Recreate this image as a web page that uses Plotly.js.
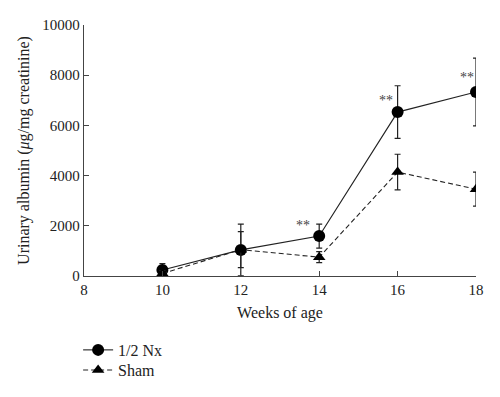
<!DOCTYPE html>
<html>
<head>
<meta charset="utf-8">
<script src="https://cdn.plot.ly/plotly-3.0.1.min.js"></script>
<style>html,body{margin:0;padding:0;background:#fff}#chart{width:500px;height:397px}</style>
</head>
<body>
<div id="chart"></div>
<script>
const weeks = [10, 12, 14, 16, 18];
const nxValues = [240, 1040, 1590, 6530, 7330];
const nxErrors = [250, 1030, 480, 1050, 1350];
const shamValues = [100, 1050, 750, 4140, 3460];
const shamErrors = [120, 720, 220, 710, 680];
const xTicks = [8, 10, 12, 14, 16, 18];
const yTicks = [0, 2000, 4000, 6000, 8000, 10000];
const starWeeks = [13.59, 15.7, 17.77];
const starValues = [2030, 6980, 7890];

const FAM = 'Liberation Serif';
function f(size, color) { return {family: FAM, size: size, color: color || '#222'}; }

const traces = [
  {
    x: weeks, y: nxValues, name: '1/2 Nx', type: 'scatter', mode: 'lines+markers', legend: 'legend',
    line: {color: '#222', width: 1.1, dash: 'solid'},
    marker: {symbol: 'circle', size: 12, color: '#000'},
    error_y: {type: 'data', array: nxErrors, visible: true, color: '#222', thickness: 1.2, width: 3}
  },
  {
    x: weeks, y: shamValues, name: 'Sham', type: 'scatter', mode: 'lines+markers', legend: 'legend2',
    line: {color: '#222', width: 1.1, dash: '5px,3px'},
    marker: {symbol: 'triangle-up', size: 11, color: '#000'},
    error_y: {type: 'data', array: shamErrors, visible: true, color: '#222', thickness: 1.2, width: 3}
  }
];

const annotations = starWeeks.map((w, i) => ({
  x: w, y: starValues[i], xref: 'x', yref: 'y', text: '**', showarrow: false,
  font: f(14, '#444')
}));

const legendBase = {x: -0.015, xanchor: 'left', yanchor: 'top', font: f(16),
                    bgcolor: 'rgba(0,0,0,0)', itemwidth: 30};

const layout = {
  width: 500, height: 397,
  margin: {l: 84, r: 24, t: 25, b: 121, autoexpand: false},
  paper_bgcolor: '#fff', plot_bgcolor: '#fff',
  font: f(16),
  showlegend: true,
  legend: Object.assign({}, legendBase, {y: -0.227}),
  legend2: Object.assign({}, legendBase, {y: -0.307}),
  xaxis: {
    range: [8, 18], tickvals: xTicks, ticktext: xTicks.map(String),
    showgrid: false, zeroline: false, showline: true, linecolor: '#444', linewidth: 1.3,
    ticks: 'inside', ticklen: 5, tickcolor: '#444', tickwidth: 1.2,
    tickfont: f(15), automargin: false,
    title: {text: 'Weeks of age', font: f(16), standoff: 9}
  },
  yaxis: {
    range: [0, 10000], tickvals: yTicks, ticktext: yTicks.map(String),
    showgrid: false, zeroline: false, showline: true, linecolor: '#444', linewidth: 1.3,
    ticks: 'inside', ticklen: 5, tickcolor: '#444', tickwidth: 1.2,
    tickfont: f(15), automargin: false,
    title: {text: 'Urinary albumin (<i>μ</i>g/mg creatinine)', font: f(16), standoff: 8}
  },
  annotations: annotations
};

Plotly.newPlot('chart', traces, layout, {displayModeBar: false, staticPlot: true});
</script>
</body>
</html>
